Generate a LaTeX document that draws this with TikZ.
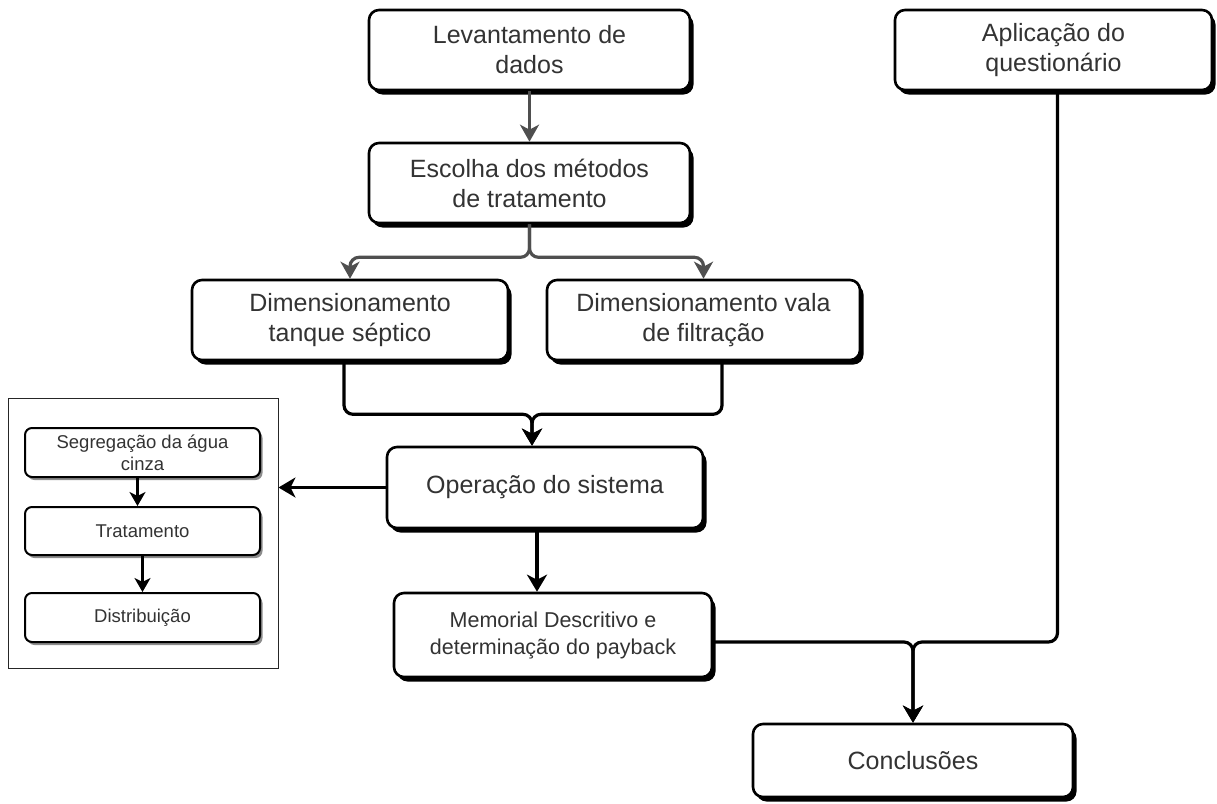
\documentclass[tikz,border=0pt]{standalone}
\usepackage{fontspec}
\setmainfont{Liberation Sans}
\usetikzlibrary{arrows.meta,calc,shadows}
\definecolor{gline}{HTML}{4F4F4F}
\begin{document}
\begin{tikzpicture}[x=1pt,y=-1pt,
  box/.style={draw=black, line width=2.6pt, fill=white, rounded corners=10pt,
    drop shadow={shadow xshift=3.5pt, shadow yshift=-4.5pt, fill=black, opacity=1},
    align=center, text=black!80, inner sep=0pt,
    font=\fontsize{25}{30}\selectfont},
  sbox/.style={draw=black, line width=2pt, fill=white, rounded corners=7pt,
    drop shadow={shadow xshift=2.5pt, shadow yshift=-3pt, fill=black!45, opacity=1},
    align=center, text=black!80, inner sep=0pt, minimum width=235pt,
    font=\fontsize{18.5}{22}\selectfont},
  gconn/.style={draw=gline, line width=3.2pt, rounded corners=9pt,
    -{Stealth[length=17pt,width=19pt,inset=5pt]}},
  bconn/.style={draw=black, line width=3.2pt, rounded corners=9pt,
    -{Stealth[length=17pt,width=20pt,inset=5pt]}},
  sconn/.style={draw=black, line width=2.4pt,
    -{Stealth[length=14pt,width=16pt,inset=4pt]}}
]
\useasboundingbox (0,0) rectangle (1217,803);

% main boxes
\node[box, minimum width=321pt, minimum height=80pt] (lev) at (529.5,50) {Levantamento de\\dados};
\node[box, minimum width=321pt, minimum height=80pt] (esc) at (529.5,183) {Escolha dos métodos\\de tratamento};
\node[box, minimum width=316pt, minimum height=80pt] (tan) at (350,320) {Dimensionamento\\tanque séptico};
\node[box, minimum width=313pt, minimum height=80pt] (val) at (703.5,320) {Dimensionamento vala\\de filtração};
\node[box, minimum width=316pt, minimum height=81pt] (ope) at (545,487.5) {Operação do sistema};
\node[box, minimum width=318pt, minimum height=84pt, font=\fontsize{21.5}{27}\selectfont] (mem) at (553,635) {Memorial Descritivo e\\determinação do payback};
\node[box, minimum width=317pt, minimum height=80pt] (apl) at (1053.5,50) {Aplicação do\\questionário};
\node[box, minimum width=320pt, minimum height=73pt] (con) at (913,760.5) {Conclusões};

% container with sub-steps
\node[draw=black!85, line width=1pt, minimum width=270pt, minimum height=270pt, inner sep=0pt] (cont) at (143,533) {};
\node[sbox, minimum height=49pt] (seg) at (142.5,452.5) {Segregação da água\\cinza};
\node[sbox, minimum height=48pt] (tra) at (142.5,531) {Tratamento};
\node[sbox, minimum height=49pt] (dis) at (142.5,617.5) {Distribuição};

% connectors (top, gray)
\draw[gconn] (lev) -- (esc);
\draw[gconn] (esc.south) -- ++(0,33) -| (tan.north);
\draw[gconn] (esc.south) -- ++(0,33) -| (val.north);

% merge to operacao
\coordinate (t1) at ($(tan.south)+(-6,0)$);
\coordinate (v1) at ($(val.south)+(18.5,0)$);
\coordinate (o0) at ($(ope.north)+(-13,0)$);
\draw[bconn] (t1) -- ++(0,53) -| (o0);
\draw[bconn] (v1) -- ++(0,53) -| (o0);

% operacao -> memorial
\coordinate (o1) at ($(ope.south)+(-8,0)$);
\draw[bconn] (o1) -- (o1 |- mem.north);

% operacao -> container
\draw[bconn] (ope.west) -- (ope.west -| cont.east);

% memorial / aplicacao -> conclusoes
\coordinate (m1) at ($(mem.east)+(0,7)$);
\coordinate (a1) at ($(apl.south)+(4,0)$);
\draw[bconn] (m1) -| (con.north);
\draw[bconn] (a1) |- (m1 -| con.north) -- (con.north);

% inner arrows
\coordinate (s1) at ($(seg.south)+(-5,0)$);
\draw[sconn] (s1) -- (s1 |- tra.north);
\draw[sconn] (tra) -- (dis);
\end{tikzpicture}
\end{document}
